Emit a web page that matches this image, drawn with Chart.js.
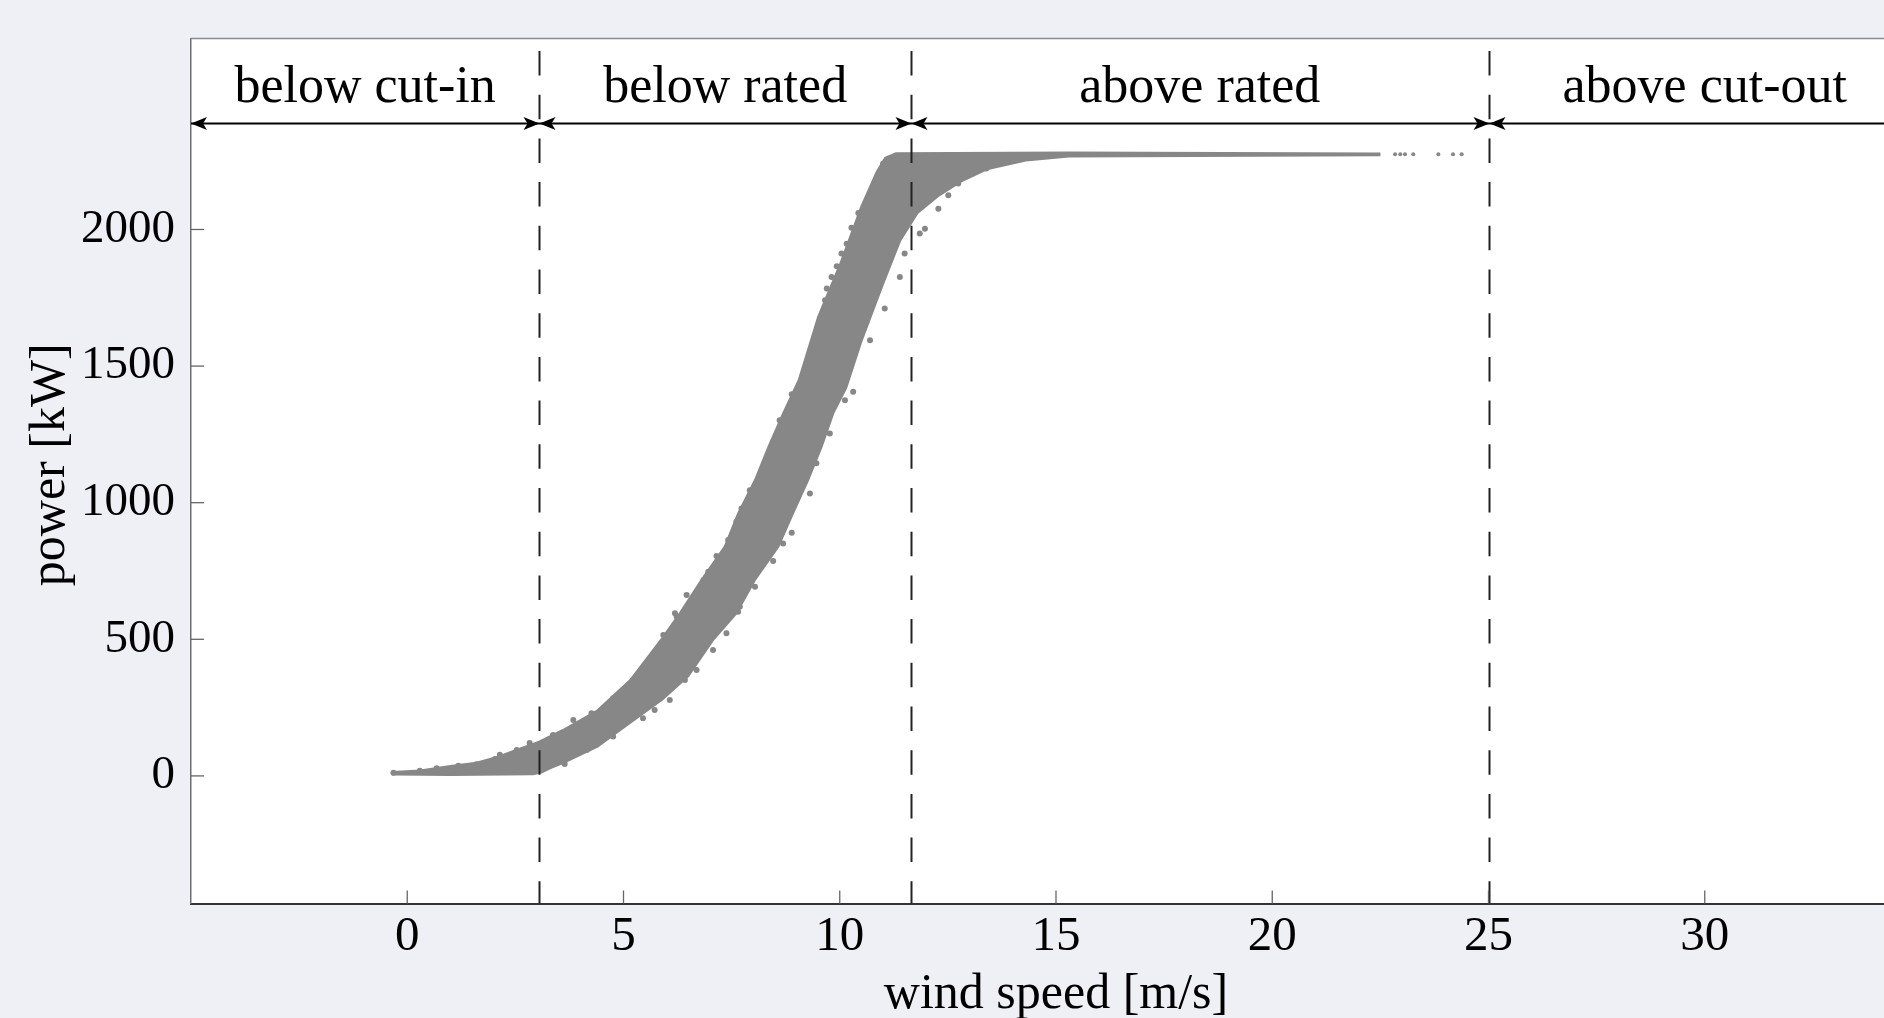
<!DOCTYPE html>
<html>
<head>
<meta charset="utf-8">
<title>Power curve regions</title>
<script src="https://cdn.jsdelivr.net/npm/chart.js@4.4.1/dist/chart.umd.min.js"></script>
<style>
  html, body { margin: 0; padding: 0; overflow: hidden; background: #eff0f5; }
  canvas { display: block; }
</style>
</head>
<body>
<canvas id="curve" width="1950" height="1018"></canvas>
<script>
// upper (left) edge of the measured point cloud
const upperWind  = [-0.35, 0.3, 1.0, 1.6, 2.1, 2.6, 3.05, 3.6, 4.4, 5.15, 5.9, 6.3, 6.8, 7.34, 7.65, 8.04, 8.35, 8.69, 9.05, 9.5, 10.0, 10.5, 10.85, 11.05, 11.3, 15.3, 22.5];
const upperPower = [14, 20, 36, 48, 70, 100, 125, 168, 240, 350, 505, 595, 717, 839, 961, 1083, 1204, 1327, 1448, 1680, 1870, 2085, 2210, 2262, 2279, 2282, 2278];

// lower (right) edge of the cloud
const lowerWind  = [-0.35, 1.0, 2.9, 3.1, 3.3, 3.6, 4.4, 5.15, 5.9, 6.5, 7.07, 7.61, 8.04, 8.58, 8.92, 9.27, 9.58, 9.85, 10.15, 10.5, 11.0, 11.4, 11.8, 12.3, 12.8, 13.4, 14.3, 15.3, 22.5];
const lowerPower = [5, 3, 6, 12, 28, 47, 107, 194, 280, 365, 497, 595, 717, 839, 961, 1083, 1204, 1327, 1420, 1590, 1800, 1960, 2060, 2125, 2175, 2220, 2252, 2267, 2272];

// loose points along the edges of the cloud
const dotWind  = [
    -0.32, 0.29, 0.68, 1.18, 1.6, 2.03, 2.14, 2.53, 2.83, 3.37, 3.84, 4.26, 4.76, 5.22, 5.53, 5.92, 6.23,
    6.19, 6.46, 6.85, 6.96, 7.15, 7.42, 7.61, 7.73, 7.92, 8.35, 8.46, 8.61, 8.89,
    9.58, 9.66, 9.70, 9.81, 9.93, 10.04, 10.16, 10.27, 10.43, 10.62, 10.81, 11.0,
    3.64, 4.15, 4.76, 5.45, 5.72, 6.07, 6.42, 6.69, 7.07, 7.38, 7.65, 7.69, 8.04, 8.46, 8.69, 8.89,
    9.31, 9.46, 9.77, 10.12, 10.31, 10.7, 11.04, 11.39, 11.5, 11.85, 11.97, 12.28, 12.51, 12.74, 13.05, 13.39
];
const dotPower = [
    12, 19, 28, 37, 43, 62, 77, 95, 120, 150, 205, 229, 284, 351, 406, 516, 583,
    595, 662, 717, 747, 805, 863, 930, 979, 1046, 1156, 1223, 1302, 1397,
    1668, 1741, 1784, 1826, 1865, 1912, 1948, 2006, 2060, 2095, 2162, 2241,
    44, 95, 144, 211, 241, 278, 351, 388, 461, 522, 601, 619, 692, 787, 851, 890,
    1034, 1144, 1253, 1375, 1406, 1595, 1711, 1826, 1912, 1985, 2003, 2076, 2125, 2168, 2204, 2223
];

// sparse points at the end of the rated plateau
const tailWind  = [22.84, 22.96, 23.07, 23.26, 23.84, 24.18, 24.38];
const tailPower = [2275, 2275, 2275, 2275, 2275, 2275, 2275];

const xTicks = [0, 5, 10, 15, 20, 25, 30];
const yTicks = [0, 500, 1000, 1500, 2000];

const boundaries = [3.05, 11.65, 25];
const regionLabels = ['below cut-in', 'below rated', 'above rated', 'above cut-out'];

const serif = '"Liberation Serif", "Times New Roman", serif';
const cloud = '#878787';

function toPoints(xs, ys) {
    return xs.map((x, i) => ({ x: x, y: ys[i] }));
}

function arrowHead(ctx, x, y, dir) {
    ctx.beginPath();
    ctx.moveTo(x, y);
    ctx.lineTo(x - dir * 16, y - 6.5);
    ctx.lineTo(x - dir * 12, y);
    ctx.lineTo(x - dir * 16, y + 6.5);
    ctx.closePath();
    ctx.fill();
}

const regionPlugin = {
    id: 'regions',
    beforeDraw(chart) {
        const { ctx, chartArea: a } = chart;
        ctx.save();
        ctx.fillStyle = '#ffffff';
        ctx.fillRect(a.left, a.top, a.right - a.left, a.bottom - a.top);
        ctx.restore();
    },
    afterDatasetsDraw(chart) {
        const { ctx, chartArea: a } = chart;
        const xs = chart.scales.x;
        ctx.save();
        ctx.strokeStyle = '#222';
        ctx.lineWidth = 2;
        ctx.setLineDash([24.5, 19.2]);
        boundaries.forEach(b => {
            const px = Math.round(xs.getPixelForValue(b)) + 0.5;
            ctx.beginPath();
            ctx.moveTo(px, a.top + 12.5);
            ctx.lineTo(px, a.bottom);
            ctx.stroke();
        });
        ctx.restore();
    },
    afterDraw(chart) {
        const { ctx, chartArea: a } = chart;
        const xs = chart.scales.x;
        const ys = chart.scales.y;
        ctx.save();

        // top frame line
        ctx.strokeStyle = '#8a8a8a';
        ctx.lineWidth = 1.5;
        ctx.beginPath();
        ctx.moveTo(a.left, a.top);
        ctx.lineTo(a.right, a.top);
        ctx.stroke();

        // ticks pointing inwards
        ctx.strokeStyle = '#666';
        ctx.lineWidth = 1.3;
        xTicks.forEach(v => {
            const px = xs.getPixelForValue(v);
            ctx.beginPath();
            ctx.moveTo(px, a.bottom);
            ctx.lineTo(px, a.bottom - 13);
            ctx.stroke();
        });
        yTicks.forEach(v => {
            const py = ys.getPixelForValue(v);
            ctx.beginPath();
            ctx.moveTo(a.left, py);
            ctx.lineTo(a.left + 13, py);
            ctx.stroke();
        });

        // region arrows
        const arrowY = a.top + 85;
        ctx.strokeStyle = '#000';
        ctx.fillStyle = '#000';
        ctx.lineWidth = 2;
        ctx.beginPath();
        ctx.moveTo(a.left, arrowY);
        ctx.lineTo(a.right, arrowY);
        ctx.stroke();
        arrowHead(ctx, a.left, arrowY, -1);
        boundaries.forEach(b => {
            const px = Math.round(xs.getPixelForValue(b)) + 0.5;
            arrowHead(ctx, px, arrowY, 1);
            arrowHead(ctx, px, arrowY, -1);
        });
        arrowHead(ctx, a.right, arrowY, 1);

        // region names
        const edges = [xs.min].concat(boundaries, [xs.max]);
        ctx.font = '52px ' + serif;
        ctx.textAlign = 'center';
        ctx.textBaseline = 'alphabetic';
        regionLabels.forEach((label, i) => {
            const mid = xs.getPixelForValue((edges[i] + edges[i + 1]) / 2);
            ctx.fillText(label, mid, a.top + 63);
        });
        ctx.restore();
    }
};

new Chart(document.getElementById('curve'), {
    type: 'scatter',
    data: {
        datasets: [
            {
                type: 'line',
                data: toPoints(lowerWind, lowerPower),
                borderColor: cloud,
                borderWidth: 2,
                pointRadius: 0,
                tension: 0,
                fill: false
            },
            {
                type: 'line',
                data: toPoints(upperWind, upperPower),
                borderColor: cloud,
                borderWidth: 2,
                pointRadius: 0,
                tension: 0,
                backgroundColor: cloud,
                fill: '-1'
            },
            {
                data: toPoints(dotWind, dotPower),
                pointRadius: 3,
                borderWidth: 0,
                backgroundColor: cloud
            },
            {
                data: toPoints(tailWind, tailPower),
                pointRadius: 2,
                borderWidth: 0,
                backgroundColor: cloud
            }
        ]
    },
    options: {
        responsive: false,
        animation: false,
        devicePixelRatio: 1,
        layout: {
            padding: { top: 38.5, right: 29, bottom: 0, left: 0 }
        },
        plugins: {
            legend: { display: false },
            tooltip: { enabled: false }
        },
        scales: {
            x: {
                type: 'linear',
                min: -5,
                max: 35,
                grid: { display: false, drawTicks: false },
                border: { color: '#333', width: 2 },
                afterBuildTicks: s => { s.ticks = xTicks.map(v => ({ value: v })); },
                afterFit: s => { s.height = 114.5; s.paddingLeft = 0; s.paddingRight = 0; },
                ticks: {
                    font: { family: serif, size: 49 },
                    color: '#000',
                    padding: 4,
                    maxRotation: 0,
                    autoSkip: false,
                    callback: v => String(v)
                },
                title: {
                    display: true,
                    text: 'wind speed [m/s]',
                    color: '#000',
                    font: { family: serif, size: 50, lineHeight: 1 },
                    padding: { top: 0, bottom: -2 }
                }
            },
            y: {
                type: 'linear',
                min: -467,
                max: 2699,
                grid: { display: false, drawTicks: false },
                border: { color: '#6e6e6e', width: 1.5 },
                afterBuildTicks: s => { s.ticks = yTicks.map(v => ({ value: v })); },
                afterFit: s => { s.width = 191; s.paddingTop = 0; s.paddingBottom = 0; },
                ticks: {
                    font: { family: serif, size: 47 },
                    color: '#000',
                    padding: 16,
                    autoSkip: false,
                    callback: v => String(v)
                },
                title: {
                    display: true,
                    text: ' power [kW]',
                    color: '#000',
                    font: { family: serif, size: 50, lineHeight: 1 },
                    padding: { top: 26, bottom: 0 }
                }
            }
        }
    },
    plugins: [regionPlugin]
});
</script>
</body>
</html>
